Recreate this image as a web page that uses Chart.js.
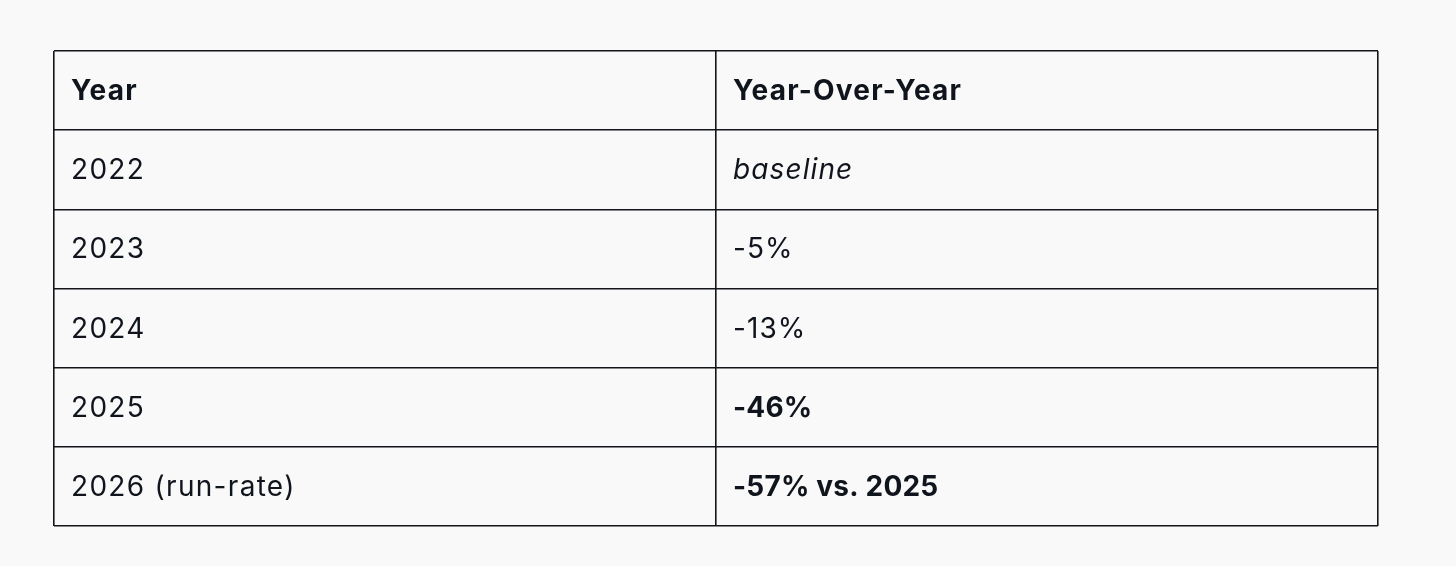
<!DOCTYPE html>
<html>
<head>
<meta charset="utf-8">
<script src="https://cdn.jsdelivr.net/npm/chart.js@4/dist/chart.umd.min.js"></script>
<style>
  html, body { margin: 0; padding: 0; background: #faf9f9; }
  #wrap { width: 1456px; height: 566px; }
</style>
</head>
<body>
<div id="wrap"><canvas id="c"></canvas></div>
<script>
// ---- data ----
const columnHeaders = ['Year', 'Year-Over-Year'];
const years = ['2022', '2023', '2024', '2025', '2026 (run-rate)'];
const yoyChange = ['baseline', '-5%', '-13%', '-46%', '-57% vs. 2025'];

// ---- presentation (not data) ----
const yoyFontStyle = ['italic 400', '400', '400', '700', '700'];
const FONT_FAMILY = 'Inter, "DejaVu Sans", sans-serif';
const FONT_SIZE = 28;
const TEXT_COLOR = '#10151d';
const LINE_COLOR = '#121519';

const rowCount = years.length + 1;
const colCount = columnHeaders.length;

const tableText = {
  id: 'tableText',
  afterDraw(chart) {
    const { ctx, scales: { x, y } } = chart;
    ctx.save();
    ctx.fillStyle = TEXT_COLOR;
    ctx.textBaseline = 'middle';
    ctx.textAlign = 'left';
    const pad = 17;
    const cell = (text, col, row, weight, spacing) => {
      ctx.font = `${weight} ${FONT_SIZE}px ${FONT_FAMILY}`;
      ctx.letterSpacing = spacing;
      const px = x.getPixelForValue(col) + pad;
      const py = y.getPixelForValue(row + 0.5) + 1;
      ctx.fillText(text, px, py);
    };
    columnHeaders.forEach((h, c) => cell(h, c, 0, '700', '1.2px'));
    years.forEach((yr, i) => cell(yr, 0, i + 1, '400', '1.3px'));
    yoyChange.forEach((v, i) => cell(v, 1, i + 1, yoyFontStyle[i], yoyFontStyle[i] === '700' ? '0.2px' : '1.1px'));
    ctx.restore();
  }
};

new Chart(document.getElementById('c'), {
  type: 'scatter',
  data: { datasets: [{ data: [], pointRadius: 0 }] },
  options: {
    responsive: true,
    maintainAspectRatio: false,
    animation: false,
    events: [],
    layout: { padding: { left: 54, right: 78, top: 51, bottom: 40 } },
    plugins: { legend: { display: false }, tooltip: { enabled: false } },
    scales: {
      x: {
        type: 'linear', min: 0, max: colCount,
        afterBuildTicks: (s) => { s.ticks = Array.from({ length: colCount + 1 }, (_, i) => ({ value: i })); },
        ticks: { display: false },
        border: { display: false },
        grid: { color: LINE_COLOR, lineWidth: 1.6, drawTicks: false }
      },
      y: {
        type: 'linear', min: 0, max: rowCount, reverse: true,
        afterBuildTicks: (s) => { s.ticks = Array.from({ length: rowCount + 1 }, (_, i) => ({ value: i })); },
        ticks: { display: false },
        border: { display: false },
        grid: { color: LINE_COLOR, lineWidth: 1.6, drawTicks: false }
      }
    }
  },
  plugins: [tableText]
});
</script>
</body>
</html>
